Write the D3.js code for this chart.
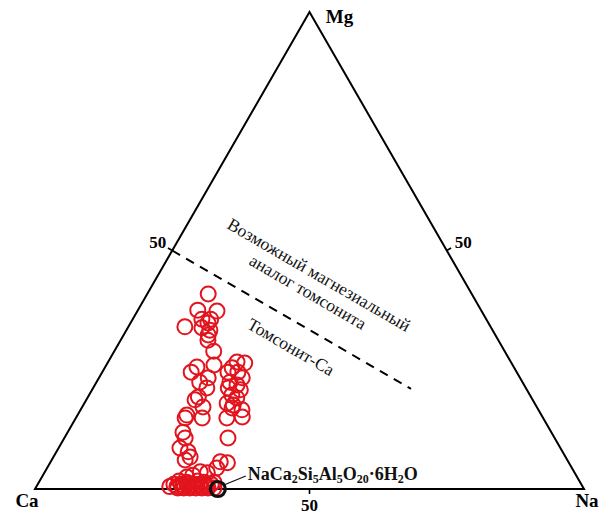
<!DOCTYPE html>
<html>
<head>
<meta charset="utf-8">
<script src="https://cdn.jsdelivr.net/npm/d3@7"></script>
<style>
  body { margin: 0; background: #fff; }
  svg text { font-family: "Liberation Serif", "Times New Roman", serif; }
</style>
</head>
<body>
<div class="canvas"></div>
<script>
//chart properties
var triProp = {
    width: 606,
    height: 514,
    left: 35,
    right: 584,
    bottom: 489,
    top: 12,
    pointColor: '#e2141e',
    pointRadius: 7.5
};

//data: Mg and Na in %, Ca = 100 - Mg - Na
const mgValues = [
    40.9, 37.5, 37.3, 35.6, 35.6, 34.0, 33.8, 34.8, 33.3, 32.3, 31.2, 28.9,
    26.0, 25.6, 24.5, 22.4, 23.3, 21.2, 19.3, 18.7, 17.2, 15.5, 14.9, 14.9,
    11.9, 10.7, 8.6, 7.8, 6.7, 6.1, 3.6, 2.9, 2.5, 3.4, 5.7, 5.5, 4.4, 10.7,
    14.9, 15.1,
    26.6, 26.4, 25.4, 24.5, 24.5, 23.3, 22.4, 21.8, 21.2, 20.8, 19.7, 19.1,
    18.0, 17.6, 17.0, 16.6,
    1.0, 0.2, 1.0, 0.2, 1.0, 0.2, 1.0, 0.2, 1.0, 0.2, 1.0, 0.2, 1.0, 0.2,
    1.7, 1.7, 0.5, 0.5, 0.5, 0.5, 0.5, 0.5, 0.5, 1.4, 1.4, 1.4
];
const naValues = [
    11.1, 10.9, 14.5, 12.6, 14.2, 10.3, 13.5, 14.1, 15.2, 15.4, 15.9, 18.1,
    19.6, 16.7, 16.2, 18.8, 19.9, 20.7, 20.1, 19.8, 22.0, 19.9, 19.9, 23.0,
    21.0, 22.0, 22.1, 24.0, 24.9, 24.3, 28.3, 27.3, 26.4, 29.7, 30.9, 32.3, 30.9, 29.8,
    27.5, 30.2,
    23.5, 25.0, 23.2, 22.9, 24.7, 26.1, 24.3, 25.9, 24.6, 27.0, 26.0, 27.2,
    26.0, 27.3, 27.4, 29.4,
    24.8, 25.9, 26.1, 27.0, 27.2, 28.1, 28.3, 29.2, 29.4, 30.3, 30.5, 31.4, 31.6, 32.5,
    25.4, 28.8, 24.3, 25.6, 26.6, 27.7, 28.7, 29.9, 31.0, 26.9, 30.1, 31.9
];

//reference composition NaCa2Si5Al5O20·6H2O
const refPoint = { mg: 0, na: 33.3 };

//dashed boundary Mg = Ca
const boundaryMg = [50, 21];

const tickValues = [50];

const vertexLabels = [
    { name: 'Ca', mg: 0, na: 0 },
    { name: 'Na', mg: 0, na: 100 },
    { name: 'Mg', mg: 100, na: 0 }
];

//scales
const xBase = d3.scaleLinear().domain([0, 100]).range([triProp.left, triProp.right]);
const yMg = d3.scaleLinear().domain([0, 100]).range([triProp.bottom, triProp.top]);

//ternary projection
const px = (mg, na) => xBase(na + mg / 2);
const py = (mg) => yMg(mg);

const svg = d3.select('.canvas').append('svg')
    .attr('width', triProp.width)
    .attr('height', triProp.height);

//triangle
const corners = [[0, 0], [0, 100], [100, 0]];
svg.append('path')
    .attr('d', d3.line()(corners.map(c => [px(c[0], c[1]), py(c[0])])) + 'Z')
    .attr('fill', 'none')
    .attr('stroke', '#000')
    .attr('stroke-width', 2)
    .attr('stroke-linejoin', 'miter');

//ticks (outward) and labels at 50
const tickLen = 5;
tickValues.forEach(v => {
    //bottom edge (Na)
    svg.append('line')
        .attr('x1', px(0, v)).attr('y1', py(0))
        .attr('x2', px(0, v)).attr('y2', py(0) + tickLen)
        .attr('stroke', '#000').attr('stroke-width', 1.6);
    svg.append('text')
        .attr('x', px(0, v)).attr('y', py(0) + 22)
        .attr('text-anchor', 'middle')
        .attr('font-size', 17).attr('font-weight', 'bold')
        .text(v);

    //left edge (Mg, Na = 0)
    const lx = px(v, 0), ly = py(v);
    svg.append('line')
        .attr('x1', lx).attr('y1', ly)
        .attr('x2', lx - tickLen * 0.866).attr('y2', ly - tickLen * 0.5)
        .attr('stroke', '#000').attr('stroke-width', 1.6);
    svg.append('text')
        .attr('x', lx - 6).attr('y', ly - 3)
        .attr('text-anchor', 'end')
        .attr('font-size', 17).attr('font-weight', 'bold')
        .text(v);

    //right edge (Mg, Ca = 0)
    const rx = px(v, 100 - v), ry = py(v);
    svg.append('line')
        .attr('x1', rx).attr('y1', ry)
        .attr('x2', rx + tickLen * 0.866).attr('y2', ry - tickLen * 0.5)
        .attr('stroke', '#000').attr('stroke-width', 1.6);
    svg.append('text')
        .attr('x', rx + 8).attr('y', ry - 3)
        .attr('text-anchor', 'start')
        .attr('font-size', 17).attr('font-weight', 'bold')
        .text(v);
});

//vertex labels
const labelOffset = { Ca: [-8, 18], Na: [3, 18], Mg: [30, 11] };
svg.selectAll('.vlabel')
    .data(vertexLabels)
    .enter()
    .append('text')
    .attr('class', 'vlabel')
    .attr('x', d => px(d.mg, d.na) + labelOffset[d.name][0])
    .attr('y', d => py(d.mg) + labelOffset[d.name][1])
    .attr('text-anchor', 'middle')
    .attr('font-size', 19)
    .attr('font-weight', 'bold')
    .text(d => d.name);

//dashed boundary where Mg = Ca
const bStart = boundaryMg[0], bEnd = boundaryMg[1];
svg.append('line')
    .attr('x1', px(bStart, 100 - 2 * bStart)).attr('y1', py(bStart))
    .attr('x2', px(bEnd, 100 - 2 * bEnd)).attr('y2', py(bEnd))
    .attr('stroke', '#000')
    .attr('stroke-width', 2)
    .attr('stroke-dasharray', '9,7');

//field labels, rotated along the boundary
const angle = Math.atan2(py(bEnd) - py(bStart), px(bEnd, 100 - 2 * bEnd) - px(bStart, 0)) * 180 / Math.PI;
const fieldLabels = [
    { text: 'Возможный магнезиальный', x: 316, y: 280 },
    { text: 'аналог томсонита', x: 305, y: 297 },
    { text: 'Томсонит-Ca', x: 288, y: 352 }
];
svg.selectAll('.flabel')
    .data(fieldLabels)
    .enter()
    .append('text')
    .attr('class', 'flabel')
    .attr('transform', d => `translate(${d.x},${d.y}) rotate(${angle})`)
    .attr('text-anchor', 'middle')
    .attr('font-size', 17.5)
    .attr('fill', '#111')
    .text(d => d.text);

//data points
const points = mgValues.map((mg, i) => ({ mg: mg, na: naValues[i] }));
svg.selectAll('.pt')
    .data(points)
    .enter()
    .append('circle')
    .attr('class', 'pt')
    .attr('cx', d => px(d.mg, d.na))
    .attr('cy', d => py(d.mg))
    .attr('r', triProp.pointRadius)
    .attr('fill', 'none')
    .attr('stroke', triProp.pointColor)
    .attr('stroke-width', 2);

//reference point and label
const rcx = px(refPoint.mg, refPoint.na), rcy = py(refPoint.mg);
svg.append('circle')
    .attr('cx', rcx).attr('cy', rcy)
    .attr('r', 7.5)
    .attr('fill', 'none')
    .attr('stroke', '#111')
    .attr('stroke-width', 3.2);
svg.append('line')
    .attr('x1', rcx + 6).attr('y1', rcy - 4)
    .attr('x2', rcx + 28).attr('y2', rcy - 13)
    .attr('stroke', '#111').attr('stroke-width', 1.2);

const formula = svg.append('text')
    .attr('x', rcx + 30).attr('y', rcy - 9)
    .attr('font-size', 18)
    .attr('font-weight', 'bold')
    .attr('fill', '#111');
const parts = [['NaCa', 0], ['2', 1], ['Si', 0], ['5', 1], ['Al', 0], ['5', 1],
               ['O', 0], ['20', 1], ['·6H', 0], ['2', 1], ['O', 0]];
parts.forEach(p => {
    formula.append('tspan')
        .attr('font-size', p[1] ? 12 : 18)
        .attr('baseline-shift', p[1] ? '-25%' : null)
        .text(p[0]);
});
</script>
</body>
</html>
